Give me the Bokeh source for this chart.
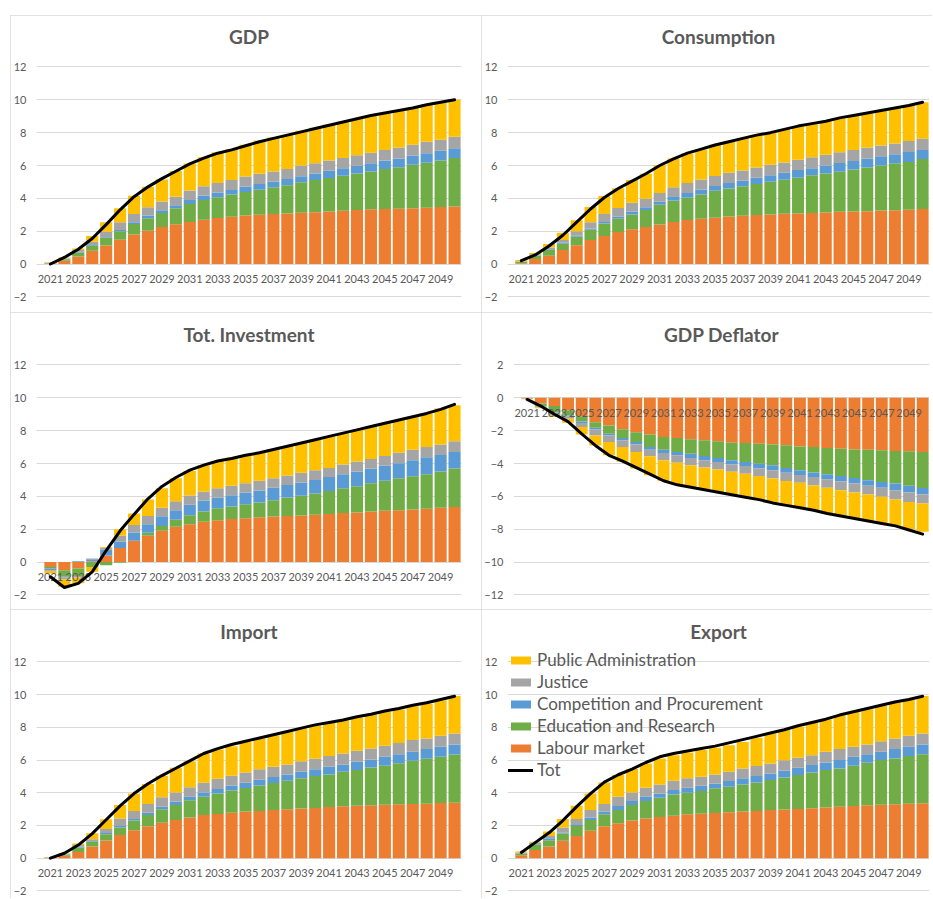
from bokeh.plotting import figure
from bokeh.models import Range1d, FixedTicker, ColumnDataSource, Legend, LegendItem, Spacer
from bokeh.layouts import column, row
from bokeh.embed import file_html
from bokeh.resources import INLINE
from bokeh.core.properties import value

years = list(range(2021, 2051))
tick_years = list(range(2021, 2050, 2))
tick_labels = [str(y) for y in tick_years]

series_names = ["Labour market", "Education and Research", "Competition and Procurement",
                "Justice", "Public Administration"]
series_colors = ["#ED7D31", "#70AD47", "#5B9BD5", "#A5A5A5", "#FFC000"]

# ---------------- GDP ----------------
gdp_labour = [0.03,0.2,0.45,0.81,1.12,1.47,1.8,2.03,2.25,2.42,2.56,2.7,2.8,2.88,2.95,3.0,3.04,3.08,3.12,3.16,3.2,3.25,3.29,3.33,3.35,3.37,3.39,3.43,3.47,3.5]
gdp_education = [0.02,0.08,0.25,0.3,0.46,0.53,0.63,0.75,0.85,0.98,1.1,1.2,1.26,1.35,1.44,1.53,1.63,1.72,1.86,1.96,2.04,2.13,2.23,2.3,2.44,2.52,2.66,2.74,2.83,2.96]
gdp_competition = [0.01,0.02,0.05,0.05,0.05,0.07,0.12,0.17,0.18,0.18,0.24,0.27,0.29,0.28,0.33,0.35,0.35,0.38,0.37,0.4,0.44,0.45,0.46,0.5,0.51,0.54,0.55,0.57,0.6,0.59]
gdp_justice = [0.01,0.04,0.1,0.2,0.34,0.48,0.5,0.5,0.52,0.52,0.57,0.56,0.59,0.61,0.61,0.61,0.61,0.61,0.65,0.61,0.62,0.63,0.65,0.65,0.64,0.67,0.67,0.7,0.67,0.7]
gdp_public = [0.03,0.06,0.1,0.35,0.58,0.85,1.1,1.25,1.35,1.57,1.65,1.77,1.86,1.88,1.94,2.03,2.07,2.09,2.12,2.17,2.2,2.22,2.2,2.25,2.23,2.23,2.26,2.26,2.27,2.25]
gdp_tot = [0.0,0.4,0.9,1.55,2.4,3.3,4.1,4.7,5.2,5.65,6.1,6.45,6.75,6.95,7.2,7.45,7.65,7.85,8.05,8.25,8.45,8.65,8.85,9.05,9.2,9.35,9.5,9.7,9.85,10.0]

# ---------------- Consumption ----------------
cons_labour = [0.05,0.3,0.5,0.85,1.15,1.46,1.7,1.95,2.11,2.25,2.41,2.56,2.68,2.76,2.82,2.9,2.94,2.98,3.02,3.06,3.08,3.1,3.14,3.18,3.2,3.22,3.26,3.27,3.3,3.35]
cons_education = [0.07,0.2,0.35,0.39,0.51,0.63,0.77,0.81,0.91,1.04,1.2,1.31,1.36,1.48,1.64,1.7,1.79,1.89,1.99,2.07,2.17,2.3,2.38,2.44,2.56,2.66,2.74,2.86,2.91,3.04]
cons_competition = [0.02,0.04,0.05,0.06,0.06,0.08,0.09,0.12,0.18,0.16,0.18,0.25,0.28,0.3,0.29,0.33,0.36,0.38,0.39,0.43,0.47,0.44,0.48,0.53,0.51,0.55,0.57,0.56,0.61,0.55]
cons_justice = [0.03,0.06,0.1,0.16,0.27,0.37,0.48,0.53,0.53,0.53,0.53,0.55,0.61,0.61,0.61,0.63,0.61,0.63,0.64,0.63,0.63,0.67,0.65,0.65,0.67,0.67,0.65,0.65,0.67,0.69]
cons_public = [0.08,0.07,0.22,0.44,0.67,0.93,1.1,1.21,1.38,1.52,1.7,1.76,1.8,1.83,1.9,1.88,1.97,1.99,1.97,2.01,2.03,2.01,2.03,2.06,2.09,2.07,2.11,2.15,2.17,2.23]
cons_tot = [0.2,0.55,1.1,1.75,2.55,3.35,4.05,4.6,5.05,5.5,6.0,6.4,6.75,7.0,7.25,7.45,7.65,7.85,8.0,8.2,8.4,8.55,8.7,8.9,9.05,9.2,9.35,9.5,9.65,9.85]

# ---------------- Tot. Investment ----------------
inv_labour = [-0.3,-0.5,-0.4,0.05,0.4,0.85,1.3,1.6,1.9,2.15,2.3,2.45,2.55,2.62,2.67,2.72,2.77,2.8,2.84,2.88,2.92,2.98,3.02,3.08,3.12,3.16,3.2,3.25,3.3,3.35]
inv_education = [-0.1,-0.4,-0.45,-0.3,-0.2,-0.05,0.0,0.18,0.3,0.42,0.55,0.63,0.72,0.76,0.85,0.91,0.99,1.13,1.2,1.3,1.4,1.52,1.6,1.72,1.83,1.94,2.03,2.1,2.22,2.35]
inv_competition = [-0.1,-0.05,0.05,0.12,0.35,0.4,0.5,0.52,0.58,0.58,0.63,0.66,0.65,0.69,0.72,0.73,0.77,0.76,0.8,0.82,0.86,0.85,0.9,0.89,0.92,0.92,0.97,1.03,1.0,1.0]
inv_justice = [-0.05,-0.1,-0.1,0.05,0.12,0.35,0.45,0.5,0.52,0.55,0.57,0.56,0.58,0.58,0.56,0.59,0.57,0.58,0.59,0.59,0.55,0.59,0.6,0.59,0.59,0.63,0.63,0.62,0.63,0.65]
inv_public = [-0.15,-0.45,-0.35,-0.3,0.05,0.4,0.7,1.0,1.2,1.4,1.5,1.6,1.65,1.7,1.7,1.7,1.75,1.78,1.82,1.86,1.92,1.91,1.93,1.97,1.99,2.0,2.02,2.05,2.2,2.2]
inv_tot = [-0.9,-1.55,-1.3,-0.6,0.7,1.9,2.9,3.85,4.6,5.15,5.6,5.9,6.15,6.3,6.5,6.65,6.85,7.05,7.25,7.45,7.65,7.85,8.05,8.25,8.45,8.65,8.85,9.05,9.3,9.6]

# ---------------- GDP Deflator ----------------
defl_labour = [-0.03,-0.35,-0.5,-0.77,-1.13,-1.48,-1.68,-1.92,-2.09,-2.23,-2.39,-2.45,-2.53,-2.59,-2.65,-2.73,-2.75,-2.79,-2.85,-2.89,-2.96,-3.0,-3.06,-3.1,-3.14,-3.16,-3.2,-3.24,-3.26,-3.3]
defl_education = [-0.01,-0.15,-0.37,-0.3,-0.31,-0.34,-0.51,-0.53,-0.6,-0.76,-0.77,-0.85,-0.87,-0.95,-1.01,-1.07,-1.16,-1.22,-1.26,-1.38,-1.45,-1.55,-1.6,-1.66,-1.74,-1.86,-1.92,-1.98,-2.1,-2.19]
defl_competition = [-0.01,-0.03,-0.03,-0.05,-0.1,-0.1,-0.1,-0.14,-0.16,-0.17,-0.2,-0.2,-0.26,-0.26,-0.25,-0.25,-0.24,-0.3,-0.3,-0.3,-0.29,-0.27,-0.3,-0.34,-0.34,-0.34,-0.35,-0.41,-0.41,-0.4]
defl_justice = [-0.01,-0.05,-0.17,-0.16,-0.24,-0.37,-0.4,-0.41,-0.45,-0.4,-0.45,-0.45,-0.44,-0.45,-0.46,-0.46,-0.47,-0.45,-0.51,-0.49,-0.48,-0.52,-0.51,-0.53,-0.55,-0.53,-0.56,-0.56,-0.57,-0.55]
defl_public = [-0.02,-0.05,-0.1,-0.24,-0.45,-0.61,-0.81,-0.9,-1.01,-1.16,-1.25,-1.31,-1.32,-1.32,-1.36,-1.36,-1.41,-1.41,-1.46,-1.48,-1.5,-1.5,-1.57,-1.56,-1.58,-1.62,-1.62,-1.6,-1.66,-1.72]
defl_tot = [-0.1,-0.5,-1.0,-1.45,-2.2,-2.9,-3.5,-3.85,-4.25,-4.65,-5.05,-5.3,-5.45,-5.6,-5.75,-5.9,-6.05,-6.2,-6.4,-6.55,-6.7,-6.85,-7.05,-7.2,-7.35,-7.5,-7.65,-7.8,-8.05,-8.3]

# ---------------- Import ----------------
imp_labour = [0.03,0.14,0.37,0.71,1.08,1.42,1.71,1.95,2.17,2.34,2.48,2.64,2.7,2.78,2.85,2.89,2.95,2.99,3.03,3.07,3.13,3.17,3.21,3.23,3.27,3.29,3.31,3.33,3.37,3.39]
imp_education = [0.01,0.08,0.28,0.27,0.38,0.45,0.59,0.69,0.82,0.91,1.06,1.12,1.26,1.35,1.44,1.56,1.64,1.75,1.85,1.95,1.99,2.11,2.18,2.32,2.38,2.52,2.65,2.75,2.83,2.95]
imp_competition = [0.0,0.02,0.05,0.05,0.08,0.1,0.1,0.14,0.16,0.21,0.22,0.26,0.27,0.32,0.32,0.35,0.37,0.38,0.4,0.41,0.47,0.45,0.5,0.49,0.55,0.55,0.54,0.59,0.61,0.61]
imp_justice = [0.01,0.03,0.11,0.13,0.25,0.45,0.49,0.53,0.57,0.56,0.57,0.59,0.63,0.59,0.63,0.63,0.63,0.61,0.65,0.65,0.65,0.67,0.68,0.67,0.67,0.69,0.72,0.65,0.67,0.67]
imp_public = [0.02,0.03,0.09,0.36,0.59,0.83,1.07,1.22,1.32,1.51,1.6,1.79,1.79,1.81,1.87,1.89,1.93,1.99,2.0,2.01,2.03,2.03,2.03,2.05,2.07,2.04,2.07,2.13,2.17,2.3]
imp_tot = [0.0,0.3,0.8,1.5,2.35,3.2,3.95,4.55,5.05,5.5,5.95,6.4,6.7,6.95,7.15,7.35,7.55,7.75,7.95,8.15,8.3,8.45,8.65,8.8,9.0,9.15,9.35,9.5,9.7,9.9]

# ---------------- Export ----------------
exp_labour = [0.17,0.5,0.71,1.06,1.36,1.67,1.95,2.13,2.3,2.42,2.52,2.6,2.68,2.72,2.76,2.8,2.85,2.89,2.95,2.97,3.01,3.05,3.09,3.15,3.19,3.23,3.27,3.29,3.33,3.35]
exp_education = [0.1,0.33,0.39,0.44,0.61,0.67,0.73,0.82,0.95,1.08,1.18,1.3,1.32,1.38,1.51,1.57,1.66,1.74,1.83,1.97,2.07,2.19,2.3,2.34,2.46,2.6,2.73,2.81,2.91,3.01]
exp_competition = [0.03,0.04,0.12,0.06,0.06,0.14,0.17,0.24,0.25,0.26,0.26,0.27,0.31,0.33,0.3,0.35,0.37,0.39,0.4,0.41,0.45,0.45,0.46,0.51,0.55,0.53,0.5,0.57,0.57,0.59]
exp_justice = [0.05,0.08,0.14,0.31,0.37,0.47,0.46,0.57,0.52,0.55,0.55,0.57,0.57,0.55,0.55,0.56,0.61,0.61,0.61,0.63,0.61,0.61,0.65,0.67,0.61,0.59,0.65,0.65,0.67,0.67]
exp_public = [0.05,0.05,0.27,0.53,0.81,1.01,1.32,1.32,1.43,1.48,1.59,1.56,1.58,1.63,1.63,1.63,1.62,1.73,1.83,1.85,1.89,1.99,2.0,2.07,2.13,2.16,2.16,2.19,2.22,2.3]
exp_tot = [0.35,0.95,1.55,2.3,3.15,3.95,4.65,5.1,5.45,5.85,6.2,6.4,6.55,6.7,6.85,7.05,7.25,7.45,7.65,7.85,8.1,8.3,8.5,8.75,8.95,9.15,9.35,9.55,9.7,9.9]

pos_ticks = [-2, 0, 2, 4, 6, 8, 10, 12]
neg_ticks = [2, 0, -2, -4, -6, -8, -10, -12]

FONT = "Lato"
GREY_TXT = "#595959"


def stack(components):
    """Excel-like stacking: positives pile up from 0, negatives pile down from 0."""
    n = len(components[0])
    pos = [0.0] * n
    neg = [0.0] * n
    out = []
    for comp in components:
        bottoms, tops = [], []
        for i, v in enumerate(comp):
            if v >= 0:
                bottoms.append(pos[i]); tops.append(pos[i] + v); pos[i] += v
            else:
                tops.append(neg[i]); bottoms.append(neg[i] + v); neg[i] += v
        out.append((bottoms, tops))
    return out


def make_panel(title, comps, tot, yticks, width, height, left, right, top, bottom,
               legend=False):
    ymin, ymax = min(yticks), max(yticks)
    p = figure(width=width, height=height, output_backend="svg", toolbar_location=None,
               x_range=Range1d(2020.0, 2050.5), y_range=Range1d(ymin - 0.04, ymax + 0.7),
               x_axis_location=None, min_border_left=left, min_border_right=right,
               min_border_top=top, min_border_bottom=bottom, tools="")
    p.outline_line_color = None
    p.background_fill_color = "white"
    p.border_fill_color = "white"
    p.styles = {"outline": "1px solid #d9d9d9", "outline-offset": "-1px"}

    p.title.text = title
    p.title.align = "center"
    p.title.text_font = FONT
    p.title.text_font_size = "19px"
    p.title.text_font_style = "bold"
    p.title.text_color = GREY_TXT
    p.title.standoff = 15

    p.yaxis.ticker = FixedTicker(ticks=yticks)
    p.yaxis.axis_line_color = None
    p.yaxis.major_tick_line_color = None
    p.yaxis.minor_tick_line_color = None
    p.yaxis.major_label_standoff = 4
    p.yaxis.major_label_text_font = FONT
    p.yaxis.major_label_text_font_size = "11px"
    p.yaxis.major_label_text_color = GREY_TXT
    p.xgrid.visible = False
    p.ygrid.ticker = FixedTicker(ticks=yticks)
    p.ygrid.grid_line_color = "#d9d9d9"
    p.ygrid.grid_line_width = 1

    renderers = []
    for (bots, tops), color in zip(stack(comps), series_colors):
        src = ColumnDataSource(dict(x=years, bottom=bots, top=tops))
        r = p.vbar(x="x", bottom="bottom", top="top", width=0.87, source=src,
                   fill_color=color, line_color=None)
        renderers.append(r)

    lab_src = ColumnDataSource(dict(x=tick_years, y=[0] * len(tick_years), t=tick_labels))
    p.text(x="x", y="y", text="t", source=lab_src, y_offset=15, text_align="center",
           text_baseline="middle", text_font=value(FONT), text_font_size="11px",
           text_color=GREY_TXT)

    line = p.line(years, tot, line_color="black", line_width=3, line_join="round",
                  line_cap="round")

    if legend:
        items = [LegendItem(label=series_names[i], renderers=[renderers[i]]) for i in range(4, -1, -1)]
        items.append(LegendItem(label="Tot", renderers=[line]))
        lg = Legend(items=items, location=(1, 111), orientation="vertical",
                    background_fill_alpha=0, border_line_color=None, padding=0, margin=0,
                    glyph_width=25, glyph_height=10, label_height=21, spacing=1,
                    label_standoff=4, label_text_font=FONT, label_text_font_size="17px",
                    label_text_color=GREY_TXT)
        p.add_layout(lg)
    return p


LW, RW = 471, 451
H1, H2, H3 = 297, 297, 289

p_gdp = make_panel("GDP", [gdp_labour, gdp_education, gdp_competition, gdp_justice, gdp_public],
                   gdp_tot, pos_ticks, LW, H1, 24, 20, 40, 15)
p_cons = make_panel("Consumption", [cons_labour, cons_education, cons_competition, cons_justice, cons_public],
                    cons_tot, pos_ticks, RW, H1, 25, 3, 40, 15)
p_inv = make_panel("Tot. Investment", [inv_labour, inv_education, inv_competition, inv_justice, inv_public],
                   inv_tot, pos_ticks, LW, H2, 24, 20, 41, 14)
p_defl = make_panel("GDP Deflator", [defl_labour, defl_education, defl_competition, defl_justice, defl_public],
                    defl_tot, neg_ticks, RW, H2, 25, 3, 41, 14)
p_imp = make_panel("Import", [imp_labour, imp_education, imp_competition, imp_justice, imp_public],
                   imp_tot, pos_ticks, LW, H3, 24, 20, 41, 7)
p_exp = make_panel("Export", [exp_labour, exp_education, exp_competition, exp_justice, exp_public],
                   exp_tot, pos_ticks, RW, H3, 25, 3, 41, 7, legend=True)

grid = column(row(p_gdp, p_cons), row(p_inv, p_defl), row(p_imp, p_exp))
layout = column(Spacer(height=15), row(Spacer(width=10), grid))

open("out.html", "w").write(file_html(layout, INLINE, title="Reform impact"))
